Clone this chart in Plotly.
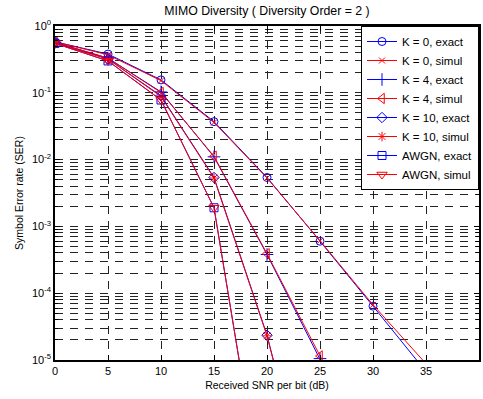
import plotly.graph_objects as go

snr = [0, 5, 10, 15, 20, 25, 30, 35, 40]

k0_exact = [0.58, 0.38, 0.156, 0.037, 0.0054, 6.0e-4, 6.4e-5, 6.7e-6, 7e-7]
k0_simul = [0.58, 0.37, 0.152, 0.036, 0.0053, 6.1e-4, 6.7e-5, 8.8e-6, 1e-6]
k4_exact = [0.57, 0.33, 0.103, 0.0110, 3.8e-4, 1.05e-5, 3e-7, 8e-9, 2e-10]
k4_simul = [0.57, 0.33, 0.101, 0.0112, 3.9e-4, 1.15e-5, 4e-7, 1e-8, 3e-10]
k10_exact = [0.56, 0.32, 0.090, 0.0054, 2.35e-5, 3e-8, 2e-11, 1e-14, 1e-17]
k10_simul = [0.56, 0.32, 0.088, 0.0053, 2.3e-5, 3e-8, 2e-11, 1e-14, 1e-17]
awgn_exact = [0.55, 0.30, 0.078, 0.0019, 3e-8, 1e-15, 1e-20, 1e-25, 1e-30]
awgn_simul = [0.55, 0.30, 0.078, 0.0019, 3e-8, 1e-15, 1e-20, 1e-25, 1e-30]

x_ticks = [0, 5, 10, 15, 20, 25, 30, 35, 40]
y_major = [1e-5, 1e-4, 1e-3, 1e-2, 1e-1, 1]
y_major_text = ["10<sup>-5</sup>", "10<sup>-4</sup>", "10<sup>-3</sup>",
                "10<sup>-2</sup>", "10<sup>-1</sup>", "10<sup>0</sup>"]

series = [
    ("K = 0, exact", k0_exact, "blue", "circle-open", 8),
    ("K = 0, simul", k0_simul, "red", "x-thin-open", 6),
    ("K = 4, exact", k4_exact, "blue", "cross-thin-open", 9),
    ("K = 4, simul", k4_simul, "red", "triangle-left-open", 9),
    ("K = 10, exact", k10_exact, "blue", "diamond-open", 8),
    ("K = 10, simul", k10_simul, "red", "asterisk-open", 8),
    ("AWGN, exact", awgn_exact, "blue", "square-open", 8),
    ("AWGN, simul", awgn_simul, "red", "triangle-down-open", 9),
]

fig = go.Figure()
for name, vals, col, sym, sz in series:
    fig.add_trace(go.Scatter(
        x=snr, y=vals, name=name, mode="lines+markers",
        line=dict(color=col, width=1),
        marker=dict(symbol=sym, size=sz, color=col, line=dict(color=col, width=1)),
        cliponaxis=True,
    ))

# minor decade positions (2..9 x 10^e) for the minor grid
y_minor = [m * 10 ** e for e in range(-5, 0) for m in range(2, 10)]

font_family = "Liberation Sans"
fig.update_layout(
    width=483, height=399,
    margin=dict(l=55, r=4, t=26, b=39, autoexpand=False),
    paper_bgcolor="white", plot_bgcolor="white",
    font=dict(family=font_family, size=11, color="black"),
    title=dict(text="MIMO Diversity ( Diversity Order = 2 )", x=0.5, xref="paper",
               y=1 - 11 / 399, yref="container", yanchor="middle",
               font=dict(size=12.3)),
    legend=dict(x=1, xanchor="right", y=1, yanchor="top",
                bgcolor="white", bordercolor="black", borderwidth=1,
                font=dict(family=font_family, size=11.5), tracegroupgap=0, itemwidth=30),
    showlegend=True,
)
fig.update_xaxes(
    range=[0, 40], tickvals=x_ticks, ticktext=[str(t) for t in x_ticks],
    automargin=False,
    showline=True, linecolor="black", linewidth=1.5, mirror="ticks",
    ticks="inside", ticklen=5, tickcolor="black", tickfont=dict(size=11),
    showgrid=True, gridcolor="#222222", gridwidth=1, griddash="8px,7px",
    zeroline=False,
    title=dict(text="Received SNR per bit (dB)", standoff=6, font=dict(size=10.5)),
)
fig.update_yaxes(
    type="log", range=[-5, 0], tickvals=y_major, ticktext=y_major_text,
    automargin=False,
    showline=True, linecolor="black", linewidth=1.5, mirror="ticks",
    ticks="inside", ticklen=5, tickcolor="black", tickfont=dict(size=11),
    showgrid=True, gridcolor="#222222", gridwidth=1, griddash="8px,7px",
    minor=dict(tickvals=y_minor, ticks="inside", ticklen=3, tickcolor="black",
               showgrid=True, gridcolor="#222222", gridwidth=1, griddash="8px,7px"),
    zeroline=False,
    title=dict(text="Symbol Error rate (SER)", standoff=6, font=dict(size=10.5)),
)
fig.write_html(
    "out.html",
    config={"displayModeBar": False},
    post_script="document.body.style.margin='0';document.body.style.overflow='hidden';",
)
